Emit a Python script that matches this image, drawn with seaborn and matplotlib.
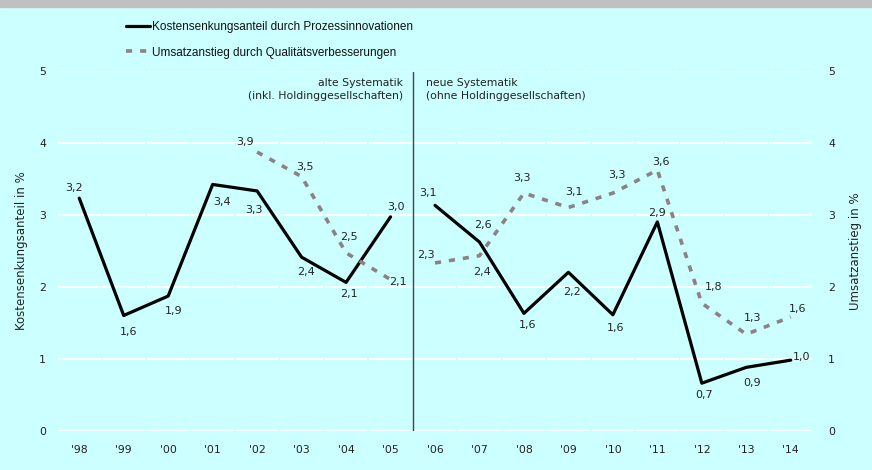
import numpy as np
import pandas as pd
import matplotlib
matplotlib.use("Agg")
import matplotlib.pyplot as plt
import seaborn as sns
from matplotlib.lines import Line2D

years = ["'98", "'99", "'00", "'01", "'02", "'03", "'04", "'05", "'06",
         "'07", "'08", "'09", "'10", "'11", "'12", "'13", "'14"]
kosten = [3.23, 1.60, 1.87, 3.42, 3.33, 2.41, 2.06, 2.97, 3.13,
          2.62, 1.63, 2.20, 1.61, 2.90, 0.66, 0.88, 0.98]
umsatz = [np.nan, np.nan, np.nan, np.nan, 3.87, 3.53, 2.47, 2.10, 2.33,
          2.43, 3.30, 3.10, 3.30, 3.62, 1.77, 1.34, 1.58]
# period: 0 = alte Systematik, 1 = neue Systematik
period = [0, 0, 0, 0, 0, 0, 0, 0, 1, 1, 1, 1, 1, 1, 1, 1, 1]
name_k = "Kostensenkungsanteil durch Prozessinnovationen"
name_u = "Umsatzanstieg durch Qualitätsverbesserungen"

# label offsets in pixels (style)
off_k = [(-5, 10), (5, -16), (5, -15), (9, -18), (-3, -19), (4, -15), (3, -12), (5, 10),
         (-7, 12), (3, 17), (4, -12), (4, -20), (3, -13), (0, 9), (2, -12), (6, -16), (11, 3)]
off_u = [None, None, None, None, (-12, 10), (3, 10), (3, 16), (7, -2),
         (-9, 8), (3, -16), (-2, 15), (6, 16), (4, 18), (4, 8), (12, 16), (6, 16), (7, 8)]

BG = "#CCFFFF"
sns.set_theme(style="white")
plt.rcParams["font.family"] = ["DejaVu Sans"]

fig = plt.figure(figsize=(8.72, 4.70), dpi=100, facecolor=BG)
ax = fig.add_axes([57 / 872, 1 - 430.7 / 470, (813 - 57) / 872, 360 / 470])
ax.set_facecolor(BG)
ax2 = ax.twinx()

df = pd.DataFrame({"x": np.arange(len(years)), "k": kosten, "u": umsatz, "p": period})

# gridlines (segmented white)
for yv in range(0, 6):
    ax.hlines([yv] * len(years), np.arange(len(years)) - 0.5 + 0.02,
              np.arange(len(years)) + 0.5 - 0.02, colors="white", lw=1.3, zorder=0)

dash = (1.7, 2.2)
for p in (0, 1):
    d = df[df.p == p]
    sns.lineplot(data=d, x="x", y="k", ax=ax, color="black", lw=2.3,
                 legend=False, zorder=3)
    du = d.dropna(subset=["u"])
    sns.lineplot(data=du, x="x", y="u", ax=ax2, color="#8C8282", lw=2.6,
                 legend=False, zorder=3, dashes=False)
for l in ax2.get_lines():
    l.set_linestyle((0, dash))
    l.set_dash_capstyle("butt")

for i, v in enumerate(kosten):
    ax.annotate(f"{v:.1f}".replace(".", ","), (i, v), xytext=off_k[i],
                textcoords="offset pixels", ha="center", va="center",
                fontsize=8, color="#222222")
for i, v in enumerate(umsatz):
    if np.isnan(v):
        continue
    ax2.annotate(f"{v:.1f}".replace(".", ","), (i, v), xytext=off_u[i],
                 textcoords="offset pixels", ha="center", va="center",
                 fontsize=8, color="#222222")

ax.axvline(7.5, ymin=0, ymax=0.996, color="#444444", lw=1.0, zorder=2)
ax.text(7.28, 4.9, "alte Systematik\n(inkl. Holdinggesellschaften)", ha="right",
        va="top", fontsize=7.8, color="#222222", linespacing=1.35)
ax.text(7.8, 4.9, "neue Systematik\n(ohne Holdinggesellschaften)", ha="left",
        va="top", fontsize=7.8, color="#222222", linespacing=1.35)

for a in (ax, ax2):
    a.set_xlim(-0.5, len(years) - 0.5)
    a.set_ylim(0, 5)
    a.set_yticks(range(0, 6))
    for s in a.spines.values():
        s.set_visible(False)
    a.tick_params(length=0, labelsize=7.8, colors="#222222")
    a.grid(False)
ax.set_xticks(range(len(years)))
ax.set_xticklabels(years)
ax.tick_params(axis="x", pad=10)
ax.tick_params(axis="y", pad=8)
ax2.tick_params(axis="y", pad=11)
ax.set_xlabel("")
ax.set_ylabel("Kostensenkungsanteil in %", fontsize=8.5, color="#222222", labelpad=8)
ax2.set_ylabel("Umsatzanstieg in %", fontsize=8.5, color="#222222", labelpad=10)

# top grey band
fig.patches.append(matplotlib.patches.Rectangle((0, 1 - 7 / 470), 1, 7 / 470,
                   transform=fig.transFigure, color="#C0C0C0", zorder=0))

hk = Line2D([], [], color="black", lw=2.3)
hu = Line2D([], [], color="#8C8282", lw=2.6, linestyle=(0, dash))
leg = fig.legend([hk, hu], [name_k, name_u], loc="upper left",
                 bbox_to_anchor=(126 / 872, 1 - 21 / 470), frameon=False,
                 handlelength=2.0, handletextpad=0.2, labelspacing=1.15,
                 borderpad=0, borderaxespad=0,
                 prop={"family": ["Liberation Sans"], "size": 8.5})
for t in leg.get_texts():
    t.set_color("#111111")

fig.savefig("out.png", dpi=100, facecolor=BG)
